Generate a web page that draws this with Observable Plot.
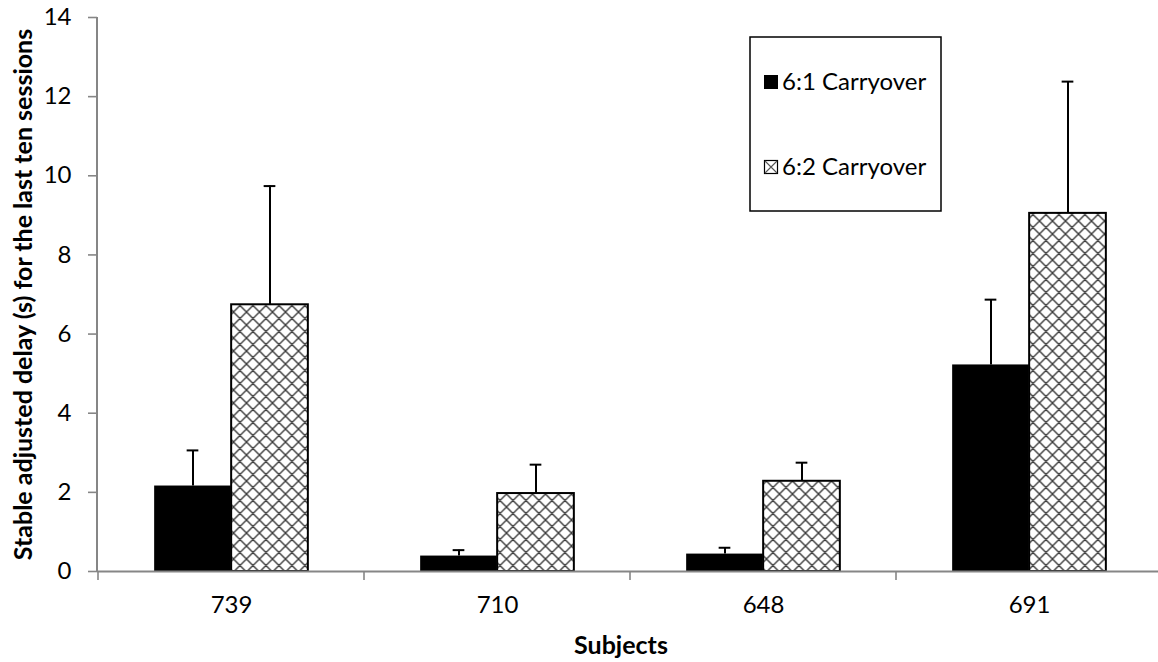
<!DOCTYPE html>
<html><head><meta charset="utf-8">
<script src="https://cdn.jsdelivr.net/npm/d3@7"></script>
<script src="https://cdn.jsdelivr.net/npm/@observablehq/plot@0.6"></script>
<style>
body{margin:0;background:#fff}
#chart{position:relative;width:1158px;height:662px;overflow:hidden}
</style>
</head><body><div id="chart"></div>
<script>
// ---- data ----
const subjects = ["739", "710", "648", "691"];
const seriesNames = ["6:1 Carryover", "6:2 Carryover"];
const carry61 = [2.16, 0.39, 0.44, 5.22];
const carry61Err = [0.90, 0.15, 0.16, 1.65];
const carry62 = [6.74, 1.97, 2.28, 9.05];
const carry62Err = [3.00, 0.73, 0.47, 3.33];
const yTicks = [0, 2, 4, 6, 8, 10, 12, 14];
const yLabel = "Stable adjusted delay (s) for the last ten sessions";
const xLabel = "Subjects";

const rows = subjects.map((s, i) => ({
  subject: s, a: carry61[i], aErr: carry61Err[i], b: carry62[i], bErr: carry62Err[i]
}));

// ---- layout/style ----
const W = 1158, H = 662, mL = 97, mT = 17, mB = 91;
const band = 266.3, barW = 77;
const inset = (band - barW) / 2, off = barW / 2;
const capW = 12;
const font = "Lato, 'Open Sans', sans-serif";
const gray = "#868686";

function axisLines(index, scales, values, dims) {
  const {x, y} = scales;
  const g = d3.create("svg:g");
  const bw = x.bandwidth ? x.bandwidth() : (x(subjects[1]) - x(subjects[0]));
  const bounds = subjects.map(d => x(d)).concat([x(subjects[subjects.length - 1]) + bw]);
  const y0 = y(0);
  g.append("line").attr("x1", dims.marginLeft).attr("x2", dims.marginLeft)
    .attr("y1", y(yTicks[yTicks.length - 1])).attr("y2", y0)
    .attr("stroke", gray).attr("stroke-width", 2);
  g.selectAll(".bt").data(bounds).join("line")
    .attr("x1", d => d).attr("x2", d => d)
    .attr("y1", y0).attr("y2", y0 + 9)
    .attr("stroke", gray).attr("stroke-width", 1.6);
  return g.node();
}

const plot = Plot.plot({
  width: W, height: H,
  marginLeft: mL, marginTop: mT, marginBottom: mB, marginRight: 0,
  style: {fontFamily: font, background: "white", color: "black"},
  x: {type: "band", domain: subjects, range: [mL, mL + band * subjects.length], padding: 0},
  y: {domain: [0, 14]},
  marks: [
    Plot.barY(rows, {x: "subject", y: "a", fill: "black", insetLeft: inset, insetRight: inset, dx: -off}),
    Plot.barY(rows, {x: "subject", y: "b", fill: "url(#hatch)", stroke: "black", strokeWidth: 2,
      insetLeft: inset, insetRight: inset, dx: off}),
    Plot.ruleX(rows, {x: "subject", y1: "a", y2: d => d.a + d.aErr, dx: -off, stroke: "black", strokeWidth: 2}),
    Plot.tickY(rows, {x: "subject", y: d => d.a + d.aErr, dx: -off, stroke: "black", strokeWidth: 2,
      insetLeft: (band - capW) / 2, insetRight: (band - capW) / 2}),
    Plot.ruleX(rows, {x: "subject", y1: "b", y2: d => d.b + d.bErr, dx: off, stroke: "black", strokeWidth: 2}),
    Plot.tickY(rows, {x: "subject", y: d => d.b + d.bErr, dx: off, stroke: "black", strokeWidth: 2,
      insetLeft: (band - capW) / 2, insetRight: (band - capW) / 2}),
    Plot.ruleY([0], {stroke: gray, strokeWidth: 2}),
    axisLines,
    Plot.axisY({ticks: yTicks, tickSize: 9, tickPadding: 17, stroke: gray, strokeWidth: 1.6,
      fill: "black", fontSize: 24, label: null, tickFormat: d => String(d)}),
    Plot.axisX({tickSize: 0, tickPadding: 24, fontSize: 24, fill: "black", label: null}),
    Plot.text([yLabel], {text: d => d, frameAnchor: "left", dx: -74, rotate: -90, textAnchor: "middle",
      fontWeight: "bold", fontSize: 25, fill: "black"}),
    Plot.text([xLabel], {text: d => d, frameAnchor: "bottom", dy: 74, dx: -7, textAnchor: "middle",
      lineAnchor: "middle", fontWeight: "bold", fontSize: 25, fill: "black"})
  ]
});

const svg = d3.select(plot);
const P = 13;
const defs = svg.insert("defs", ":first-child");
const pat = defs.append("pattern").attr("id", "hatch").attr("patternUnits", "userSpaceOnUse")
  .attr("width", P).attr("height", P);
pat.append("rect").attr("width", P).attr("height", P).attr("fill", "white");
pat.append("path")
  .attr("d", `M0,0L${P},${P}M${P},0L0,${P}M-2,2L2,-2M${P-2},${P+2}L${P+2},${P-2}M-2,${P-2}L2,${P+2}M${P-2},-2L${P+2},2`)
  .attr("stroke", "#3c3c3c").attr("stroke-width", 1.4).attr("fill", "none");

// legend
const lg = svg.append("g").attr("font-family", font).attr("font-size", 24).attr("text-anchor", "start");
lg.append("rect").attr("x", 750).attr("y", 37).attr("width", 191).attr("height", 174)
  .attr("fill", "white").attr("stroke", "black").attr("stroke-width", 1.5);
const ly = [82, 167];
lg.append("rect").attr("x", 764).attr("y", ly[0] - 7).attr("width", 14).attr("height", 14).attr("fill", "black");
lg.append("rect").attr("x", 764.5).attr("y", ly[1] - 6.5).attr("width", 13).attr("height", 13)
  .attr("fill", "white").attr("stroke", "black").attr("stroke-width", 1.2);
lg.append("path").attr("d", `M765,${ly[1]-6}L777,${ly[1]+6}M777,${ly[1]-6}L765,${ly[1]+6}`)
  .attr("stroke", "#555").attr("stroke-width", 1.1);
lg.selectAll("text.l").data(seriesNames).join("text")
  .attr("x", 782).attr("y", (d, i) => ly[i]).attr("dy", "0.35em").attr("fill", "black").text(d => d);

document.getElementById("chart").appendChild(plot);
</script>
</body></html>
